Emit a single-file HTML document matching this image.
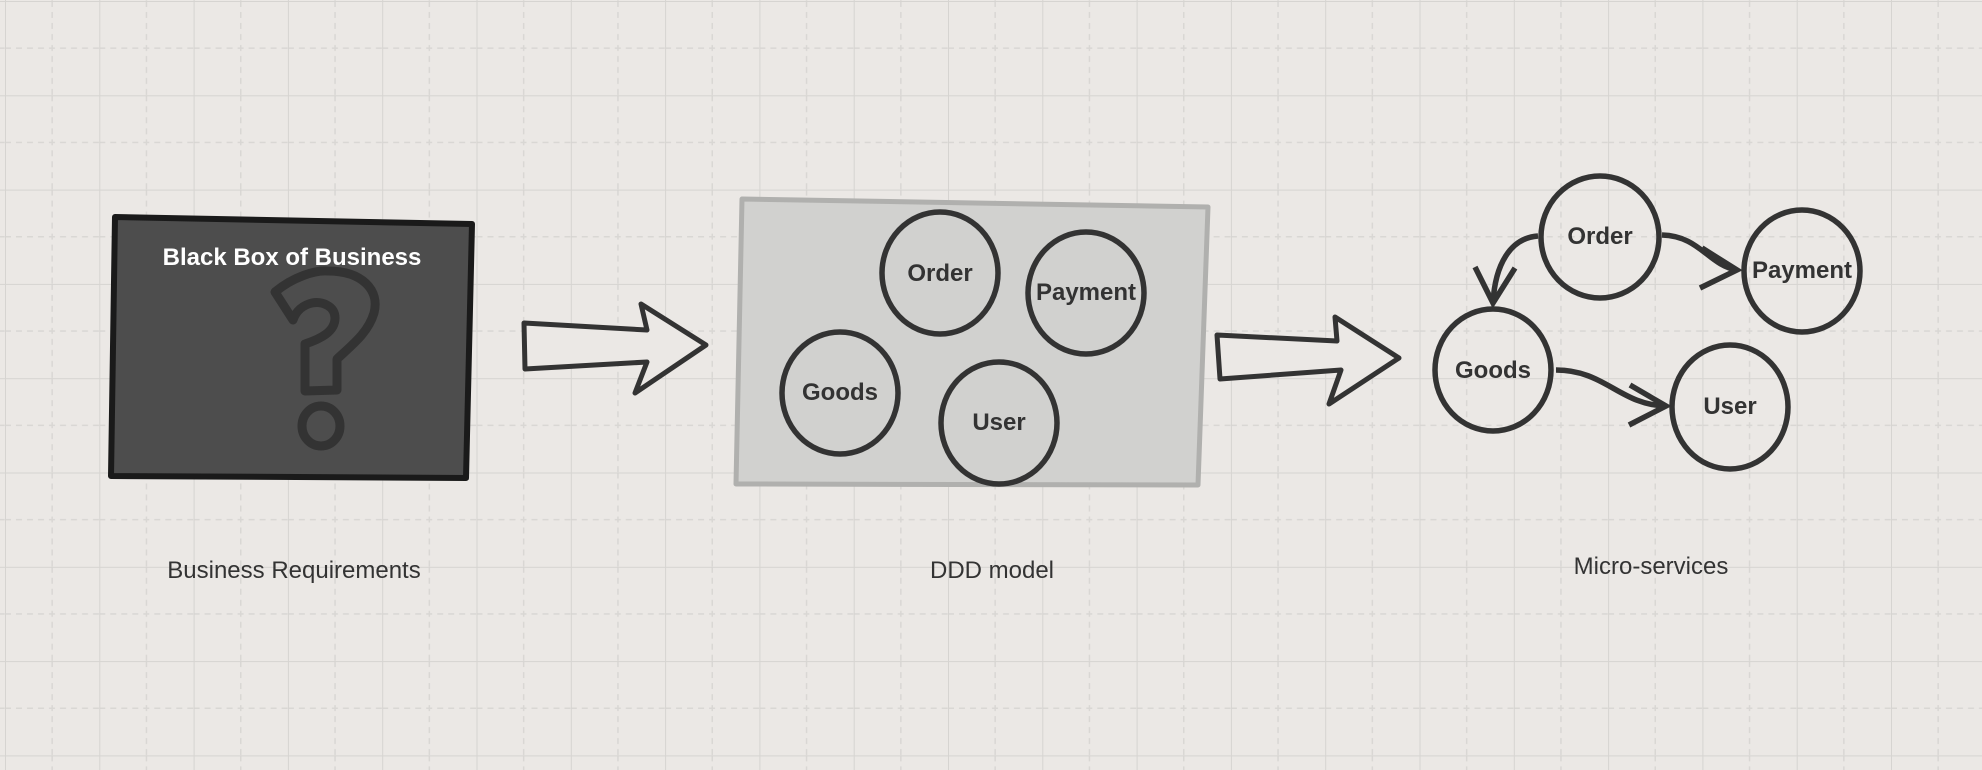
<!DOCTYPE html>
<html><head><meta charset="utf-8"><style>
html,body{margin:0;padding:0;background:#ebe8e5;}
svg{display:block;}
text{font-family:"Liberation Sans",sans-serif;}
</style></head><body>
<svg width="1982" height="770" viewBox="0 0 1982 770" xmlns="http://www.w3.org/2000/svg">
<defs>
<pattern id="g" x="5" y="1" width="94.3" height="94.3" patternUnits="userSpaceOnUse">
<line x1="47.15" y1="0" x2="47.15" y2="94.3" stroke="#d9d7d4" stroke-width="1.5" stroke-dasharray="6,5"/>
<line x1="0" y1="47.15" x2="94.3" y2="47.15" stroke="#d9d7d4" stroke-width="1.5" stroke-dasharray="6,5"/>
<line x1="0" y1="0" x2="0" y2="94.3" stroke="#d6d4d1" stroke-width="2"/>
<line x1="0" y1="0" x2="94.3" y2="0" stroke="#d6d4d1" stroke-width="2"/>
</pattern>
</defs>
<rect width="1982" height="770" fill="#ebe8e5"/>
<rect width="1982" height="770" fill="url(#g)"/>

<!-- Black box -->
<polygon points="115,217 472,224 466,478 111,476" fill="#4d4d4d" stroke="#1a1a1a" stroke-width="6" stroke-linejoin="round"/>
<path d="M275,292 C293,277 315,270 328,271 C362,271 380,290 374,313 C368,333 352,345 337,359 L337,390 L305,391 L305,344 C320,339 335,332 335,318 C335,306 322,301 312,303 C303,305 296,311 293,320 Z" fill="none" stroke="#333" stroke-width="9" stroke-linejoin="round"/>
<ellipse cx="321" cy="426" rx="19" ry="20" fill="none" stroke="#333" stroke-width="9"/>
<text x="292" y="265" text-anchor="middle" font-size="24" font-weight="bold" fill="#fff">Black Box of Business</text>

<!-- Arrow 1 -->
<polygon points="524,323 647,330 641,304 706,345 635,393 647,362 525,369" fill="#ebe8e5" stroke="#333" stroke-width="5" stroke-linejoin="round"/>

<!-- DDD box -->
<polygon points="742,199 1208,207 1198,485 736,484" fill="#d1d1cf" stroke="#b0b0ae" stroke-width="5" stroke-linejoin="round"/>
<g fill="none" stroke="#333" stroke-width="5.5">
<ellipse cx="940" cy="273" rx="58" ry="61"/>
<ellipse cx="1086" cy="293" rx="58" ry="61"/>
<ellipse cx="840" cy="393" rx="58" ry="61"/>
<ellipse cx="999" cy="423" rx="58" ry="61"/>
</g>
<g font-size="24" font-weight="bold" fill="#333" text-anchor="middle">
<text x="940" y="281">Order</text>
<text x="1086" y="300">Payment</text>
<text x="840" y="400">Goods</text>
<text x="999" y="430">User</text>
</g>

<!-- Arrow 2 -->
<polygon points="1217,335 1337,341 1335,317 1399,358 1329,404 1341,370 1220,379" fill="#ebe8e5" stroke="#333" stroke-width="5" stroke-linejoin="round"/>

<!-- Micro services -->
<g fill="none" stroke="#333" stroke-width="5.5">
<ellipse cx="1600" cy="237" rx="59" ry="61"/>
<ellipse cx="1802" cy="271" rx="58" ry="61"/>
<ellipse cx="1493" cy="370" rx="58" ry="61"/>
<ellipse cx="1730" cy="407" rx="58" ry="62"/>
<path d="M1538,236 C1510,238 1495,265 1493,303"/>
<path d="M1475,267 L1493,303 L1515,268"/>
<path d="M1662,235 C1700,236 1708,265 1737,270"/>
<path d="M1702,248 L1737,270 L1700,288"/>
<path d="M1556,370 C1605,370 1620,405 1666,406"/>
<path d="M1630,385 L1666,406 L1629,425"/>
</g>
<g font-size="24" font-weight="bold" fill="#333" text-anchor="middle">
<text x="1600" y="244">Order</text>
<text x="1802" y="278">Payment</text>
<text x="1493" y="378">Goods</text>
<text x="1730" y="414">User</text>
</g>

<g font-size="24" fill="#333" text-anchor="middle">
<text x="294" y="578">Business Requirements</text>
<text x="992" y="578">DDD model</text>
<text x="1651" y="574">Micro-services</text>
</g>
</svg>
</body></html>
